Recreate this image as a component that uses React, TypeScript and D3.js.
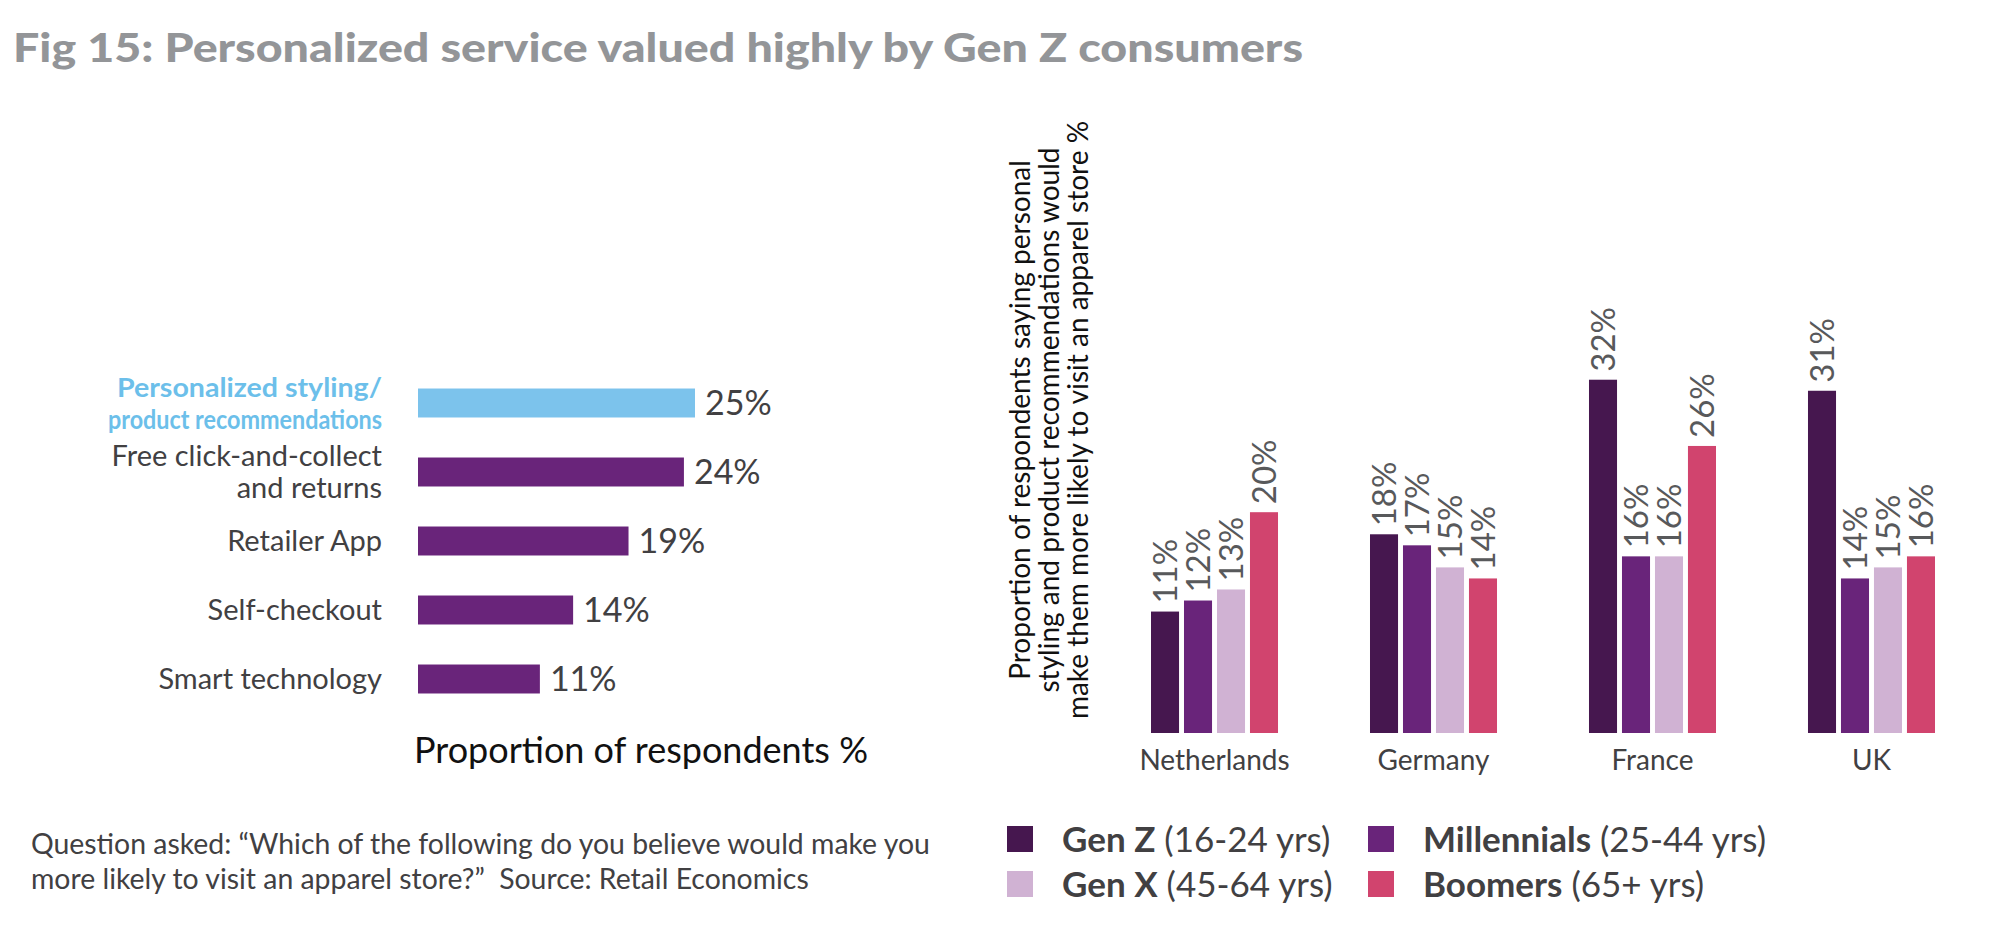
import React from "react";
import * as d3 from "d3";

const W = 1999;
const H = 949;

// Left chart data
const factors = [
  "Personalized styling/\nproduct recommendations",
  "Free click-and-collect\nand returns",
  "Retailer App",
  "Self-checkout",
  "Smart technology",
];
const factorValues = [25, 24, 19, 14, 11];

// Right chart data
const countries = ["Netherlands", "Germany", "France", "UK"];
const seriesNames = ["Gen Z", "Millennials", "Gen X", "Boomers"];
const seriesAges = ["(16-24 yrs)", "(25-44 yrs)", "(45-64 yrs)", "(65+ yrs)"];
const genZ = [11, 18, 32, 31];
const millennials = [12, 17, 16, 14];
const genX = [13, 15, 16, 15];
const boomers = [20, 14, 26, 16];
const seriesColors = ["#46174f", "#69247a", "#d0b2d3", "#d1446e"];

const yAxisTitle = [
  "Proportion of respondents saying personal",
  "styling and product recommendations would",
  "make them more likely to visit an apparel store %",
];

const FONT = "Lato, 'Open Sans', sans-serif";
const TEXT = "#414042";

export default function App() {
  // left chart scales
  const xL = d3.scaleLinear().domain([0, 25]).range([418, 695]);
  const yL = d3
    .scaleBand<string>()
    .domain(factors)
    .range([368.5, 713.5])
    .paddingInner(0.58)
    .paddingOuter(0.29);

  // right chart scales
  const x0 = d3
    .scaleBand<string>()
    .domain(countries)
    .range([1151, 1151 + 3 * 219 + 127])
    .paddingInner(0.42)
    .paddingOuter(0);
  const x1 = d3
    .scaleBand<string>()
    .domain(seriesNames)
    .range([0, x0.bandwidth()])
    .paddingInner(0.15);
  const yR = d3.scaleLinear().domain([0, 35]).range([733, 733 - 11.04 * 35]);
  const allSeries = [genZ, millennials, genX, boomers];

  return (
    <svg
      width={W}
      height={H}
      style={{ position: "absolute", left: 0, top: 0, background: "#fff" }}
      fontFamily={FONT}
    >
      <rect x={0} y={0} width={W} height={H} fill="#fff" />
      {/* Title */}
      <text
        x={13}
        y={62}
        fontSize={40}
        fontWeight={900}
        fill="#939598"
        textLength={1290}
        lengthAdjust="spacingAndGlyphs"
      >
        Fig 15: Personalized service valued highly by Gen Z consumers
      </text>

      {/* Left chart */}
      {factors.map((f, i) => {
        const y = yL(f)!;
        const bw = yL.bandwidth();
        const hl = i === 0;
        const lines = f.split("\n");
        const cy = y + bw / 2;
        const lh = 32;
        return (
          <g key={f}>
            <rect
              x={xL(0)}
              y={y}
              width={xL(factorValues[i]) - xL(0)}
              height={bw}
              fill={hl ? "#7cc3ec" : "#69247a"}
            />
            <text
              x={xL(factorValues[i]) + 10}
              y={cy}
              dy="0.36em"
              fontSize={34}
              fill={TEXT}
            >
              {factorValues[i]}%
            </text>
            {lines.map((ln, j) => (
              <text
                key={j}
                x={382}
                y={cy + (j - (lines.length - 1) / 2) * lh}
                dy="0.36em"
                textAnchor="end"
                fontSize={hl ? 27 : 29}
                fontWeight={hl ? 700 : 400}
                fill={hl ? "#6cbfea" : TEXT}
                textLength={hl ? (j === 0 ? 265 : 274) : undefined}
                lengthAdjust="spacingAndGlyphs"
              >
                {ln}
              </text>
            ))}
          </g>
        );
      })}
      <text x={641} y={763} textAnchor="middle" fontSize={36} fill="#111">
        Proportion of respondents %
      </text>

      {/* Footnote */}
      <text x={31} y={854} fontSize={28.4} fill={TEXT}>
        Question asked: “Which of the following do you believe would make you
      </text>
      <text x={31} y={889} fontSize={28.4} fill={TEXT}>
        {"more likely to visit an apparel store?”\u00a0 Source: Retail Economics"}
      </text>

      {/* Right chart */}
      {yAxisTitle.map((t, i) => (
        <text
          key={i}
          transform={`translate(${1020 + i * 29},420) rotate(-90)`}
          textAnchor="middle"
          dy="0.36em"
          fontSize={28}
          fill="#111"
        >
          {t}
        </text>
      ))}
      {countries.map((c, ci) => (
        <g key={c} transform={`translate(${x0(c)},0)`}>
          {seriesNames.map((s, si) => {
            const v = allSeries[si][ci];
            const bx = x1(s)!;
            return (
              <g key={s}>
                <rect
                  x={bx}
                  y={yR(v)}
                  width={x1.bandwidth()}
                  height={yR(0) - yR(v)}
                  fill={seriesColors[si]}
                />
                <text
                  transform={`translate(${bx + x1.bandwidth() / 2},${yR(v) - 8}) rotate(-90)`}
                  dy="0.36em"
                  fontSize={33}
                  fill="#58595b"
                >
                  {v}%
                </text>
              </g>
            );
          })}
          <text
            x={x0.bandwidth() / 2}
            y={770}
            textAnchor="middle"
            fontSize={28}
            fill={TEXT}
          >
            {c}
          </text>
        </g>
      ))}

      {/* Legend */}
      {seriesNames.map((s, i) => {
        const col = i % 2;
        const row = Math.floor(i / 2);
        const lx = col === 0 ? 1007 : 1368;
        const cy = row === 0 ? 839 : 884;
        return (
          <g key={s}>
            <rect x={lx} y={cy - 13} width={26} height={26} fill={seriesColors[i]} />
            <text x={lx + 55} y={cy} dy="0.36em" fontSize={35} fill={TEXT}>
              <tspan fontWeight={700}>{s}</tspan>
              <tspan> {seriesAges[i]}</tspan>
            </text>
          </g>
        );
      })}
    </svg>
  );
}
